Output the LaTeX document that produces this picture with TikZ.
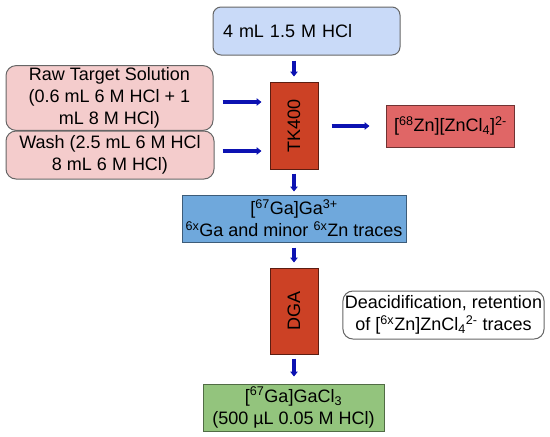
\documentclass[tikz,border=0pt]{standalone}
\usepackage{fontspec}
\setmainfont{Liberation Sans}
\usetikzlibrary{arrows.meta}
\definecolor{arrblue}{RGB}{12,18,178}
\definecolor{topfill}{RGB}{201,218,248}
\definecolor{pinkfill}{RGB}{244,204,204}
\definecolor{tkfill}{RGB}{204,65,37}
\definecolor{znfill}{RGB}{224,102,102}
\definecolor{gafill}{RGB}{111,168,220}
\definecolor{grfill}{RGB}{147,196,125}
\tikzset{
  box/.style={draw, line width=1pt, align=center, inner sep=2pt,
    font=\fontsize{18}{22}\selectfont, text=black},
  arr/.style={draw=arrblue, line width=3.6pt, -{Triangle[width=7.5pt,length=5pt]}},
}
\begin{document}
\begin{tikzpicture}[x=1pt,y=-1pt]
\useasboundingbox (0,0) rectangle (550,437);
\node[box, fill=topfill, draw=black!60, rounded corners=8pt, inner xsep=10pt, text width=167pt, align=left, minimum height=48pt] (top) at (306.5,31) {4 mL 1.5 M HCl};
\node[box, fill=pinkfill, draw=black!60, rounded corners=10pt, minimum width=207pt, minimum height=62pt] (raw) at (109.5,98) {Raw Target Solution\\(0.6 mL 6 M HCl + 1\\mL 8 M HCl)};
\node[box, fill=pinkfill, draw=black!60, rounded corners=10pt, minimum width=208pt, minimum height=48pt] (wash) at (110,155) {Wash (2.5 mL 6 M HCl\\8 mL 6 M HCl)};
\node[box, fill=tkfill, draw=black!55!tkfill, rotate=90, minimum width=87pt, minimum height=48pt] (tk) at (294,125.5) {TK400};
\node[box, fill=znfill, draw=black!50!znfill, inner xsep=8pt, text width=112pt, align=left, minimum height=42pt] (zn) at (450,126) {[\textsuperscript{68}Zn][ZnCl\textsubscript{4}]\textsuperscript{2-}};
\node[box, fill=gafill, draw=black!45!gafill, minimum width=224pt, minimum height=47pt] (ga) at (294,218.5) {[\textsuperscript{67}Ga]Ga\textsuperscript{3+}\\\textsuperscript{6x}Ga and minor \textsuperscript{6x}Zn traces};
\node[box, fill=tkfill, draw=black!55!tkfill, rotate=90, minimum width=86pt, minimum height=48pt] (dga) at (294,311) {DGA};
\node[box, fill=white, draw=black!60, rounded corners=10pt, minimum width=201pt, minimum height=48pt] (deac) at (443.5,315) {Deacidification, retention\\of [\textsuperscript{6x}Zn]ZnCl\textsubscript{4}\textsuperscript{2-} traces};
\node[box, fill=grfill, draw=black!45!grfill, minimum width=181pt, minimum height=47pt] (fin) at (293.5,407.5) {[\textsuperscript{67}Ga]GaCl\textsubscript{3}\\(500 µL 0.05 M HCl)};
\draw[arr, shorten <=5pt, shorten >=5pt] (top.south -| tk.center) -- (tk.east);
\draw[arr, shorten <=9pt, shorten >=8pt] ([yshift=-4pt]raw.east) -- ([yshift=-4pt]raw.east -| tk.north);
\draw[arr, shorten <=8pt, shorten >=8pt] ([yshift=4pt]wash.east) -- ([yshift=4pt]wash.east -| tk.north);
\draw[arr, shorten <=13pt, shorten >=16pt] (tk.south |- zn.west) -- (zn.west);
\draw[arr, shorten <=4pt, shorten >=3pt] (tk.west) -- (tk.west |- ga.north);
\draw[arr, shorten <=5pt, shorten >=5pt] (ga.south -| dga.center) -- (dga.east);
\draw[arr, shorten <=4pt, shorten >=7pt] (dga.west) -- (dga.west |- fin.north);
\end{tikzpicture}
\end{document}
